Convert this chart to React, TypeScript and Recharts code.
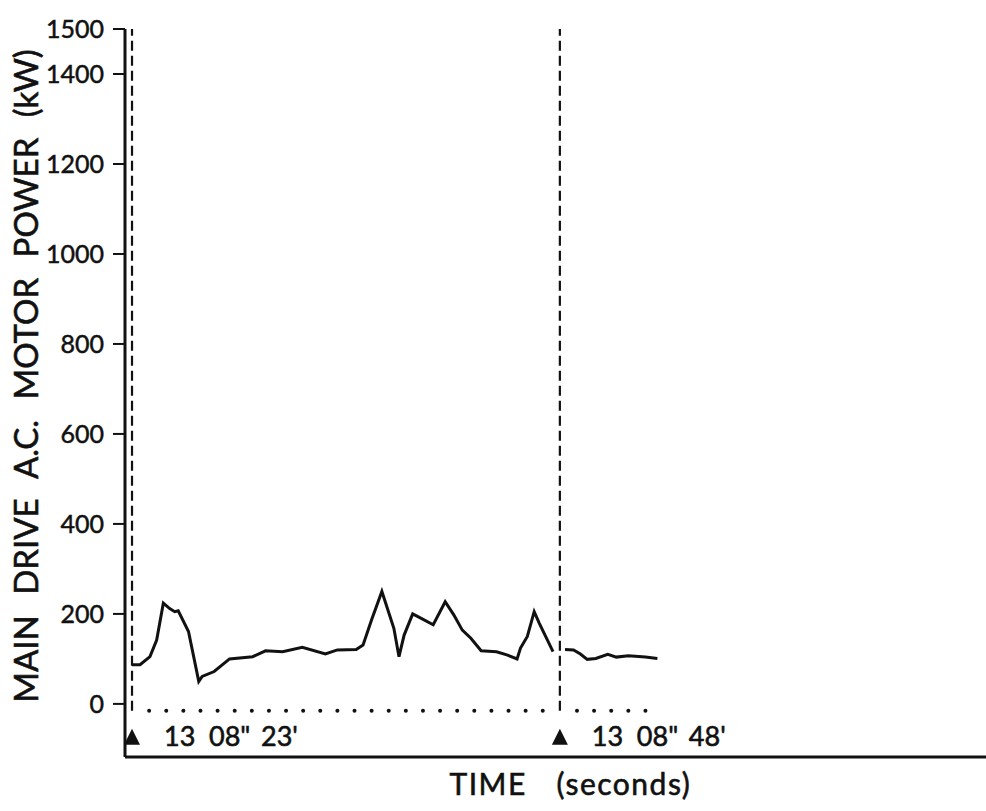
import React from "react";
import {
  ComposedChart,
  Line,
  Scatter,
  XAxis,
  YAxis,
  ReferenceLine,
  ReferenceDot,
  Label,
} from "recharts";

// time (s) after 13:08:23 and motor power (kW)
const seg1Time = [
  0, 0.47, 1.05, 1.44, 1.83, 2.2, 2.5, 2.7, 3.3, 3.9, 4.1, 4.8, 5.7, 7.05, 7.8,
  8.8, 9.95, 11.3, 12.0, 13.1, 13.5, 14.0, 14.6, 15.3, 15.6, 15.9, 16.4, 16.9,
  17.6, 18.3, 18.8, 19.3, 19.8, 20.4, 21.3, 21.9, 22.5, 22.7, 23.1, 23.5, 23.8,
  24.6,
];
const seg1Power = [
  87, 87, 105, 142, 224, 212, 205, 207, 161, 50, 61, 72, 100, 105, 118, 116,
  126, 111, 120, 121, 131, 187, 250, 168, 105, 153, 200, 190, 176, 227, 198,
  164, 146, 118, 116, 109, 100, 124, 150, 205, 179, 116,
];
const seg2Time = [25.3, 25.8, 26.2, 26.6, 27.1, 27.8, 28.3, 29.0, 30.0, 30.7];
const seg2Power = [121, 120, 111, 99, 101, 110, 104, 107, 104, 101];

// dotted zero-reference marks, one per second
const dotTimes = [
  1, 2, 3, 4, 5, 6, 7, 8, 9, 10, 11, 12, 13, 14, 15, 16, 17, 18, 19, 20, 21, 22,
  23, 24, 26, 27, 28, 29, 30,
];
const dotLevel = -15;

const markerTimes = [0, 25];
const markerLabels = [
  ["13", "08\"", "23'"],
  ["13", "08\"", "48'"],
];
const markerLevel = -73;

const yTicks = [0, 200, 400, 600, 800, 1000, 1200, 1400, 1500];
const yDomain = [-118, 1500];
const xDomain = [-0.41, 49.9];

const FONT = "Lato, 'DejaVu Sans', sans-serif";
const INK = "#111";

const seg1 = seg1Time.map((t, i) => ({ t, p: seg1Power[i] }));
const seg2 = seg2Time.map((t, i) => ({ t, p: seg2Power[i] }));
const dots = dotTimes.map((t) => ({ t, p: dotLevel }));

function YTitle(props: any) {
  const { x, y, height } = props.viewBox;
  const cx = x + 25;
  const cy = y + height / 2 - 17;
  return (
    <text
      x={cx}
      y={cy}
      transform={`rotate(-90 ${cx} ${cy})`}
      textAnchor="middle"
      dominantBaseline="central"
      fontFamily={FONT}
      fontSize={33}
      fill={INK}
      stroke={INK}
      strokeWidth={0.6}
      wordSpacing={12}
    >
      MAIN DRIVE A.C. MOTOR POWER (kW)
    </text>
  );
}

function XTitle(props: any) {
  const { x, y, width } = props.viewBox;
  const cx = x + width / 2;
  return (
    <text
      y={y + 38}
      fontFamily={FONT}
      fontSize={30}
      fill={INK}
      stroke={INK}
      strokeWidth={0.6}
      letterSpacing={1.5}
    >
      <tspan x={cx - 106}>TIME</tspan>
      <tspan x={cx + 1}>(seconds)</tspan>
    </text>
  );
}

function marker(parts: string[]) {
  return (props: any) => {
    const { cx, cy } = props;
    return (
      <g>
        <polygon
          points={`${cx - 8},${cy + 8} ${cx + 8},${cy + 8} ${cx},${cy - 8}`}
          fill={INK}
        />
        <text
          y={cy + 9}
          fontFamily={FONT}
          fontSize={27}
          fill={INK}
          stroke={INK}
          strokeWidth={0.6}
        >
          <tspan x={cx + 32}>{parts[0]}</tspan>
          <tspan x={cx + 77}>{parts[1]}</tspan>
          <tspan x={cx + 129}>{parts[2]}</tspan>
        </text>
      </g>
    );
  };
}

export default function App() {
  return (
    <div style={{ position: "absolute", left: 0, top: 0, background: "#fff" }}>
      <ComposedChart
        width={986}
        height={811}
        margin={{ top: 29, right: 0, bottom: 0, left: 0 }}
      >
        <XAxis
          type="number"
          dataKey="t"
          domain={xDomain}
          allowDataOverflow
          tick={false}
          tickLine={false}
          height={54}
          axisLine={{ stroke: INK, strokeWidth: 3 }}
        >
          <Label content={XTitle} />
        </XAxis>
        <YAxis
          type="number"
          dataKey="p"
          domain={yDomain}
          ticks={yTicks}
          interval={0}
          allowDataOverflow
          width={125}
          tickSize={12}
          tickMargin={9}
          tick={{
            fill: INK,
            fontSize: 25,
            fontFamily: FONT,
            stroke: INK,
            strokeWidth: 0.5,
          }}
          tickLine={{ stroke: INK, strokeWidth: 2 }}
          axisLine={{ stroke: INK, strokeWidth: 3 }}
        >
          <Label content={YTitle} />
        </YAxis>
        {markerTimes.map((t) => (
          <ReferenceLine
            key={`rl${t}`}
            segment={[
              { x: t, y: dotLevel },
              { x: t, y: 1500 },
            ]}
            stroke={INK}
            strokeWidth={2.2}
            strokeDasharray="10 5"
            ifOverflow="visible"
          />
        ))}
        <Scatter
          data={dots}
          dataKey="p"
          fill={INK}
          isAnimationActive={false}
          shape={(p: any) => <circle cx={p.cx} cy={p.cy} r={2} fill={INK} />}
        />
        <Line
          data={seg1}
          dataKey="p"
          type="linear"
          stroke={INK}
          strokeWidth={3}
          dot={false}
          isAnimationActive={false}
        />
        <Line
          data={seg2}
          dataKey="p"
          type="linear"
          stroke={INK}
          strokeWidth={3}
          dot={false}
          isAnimationActive={false}
        />
        {markerTimes.map((t, i) => (
          <ReferenceDot
            key={`rd${t}`}
            x={t}
            y={markerLevel}
            ifOverflow="visible"
            shape={marker(markerLabels[i])}
          />
        ))}
      </ComposedChart>
    </div>
  );
}
